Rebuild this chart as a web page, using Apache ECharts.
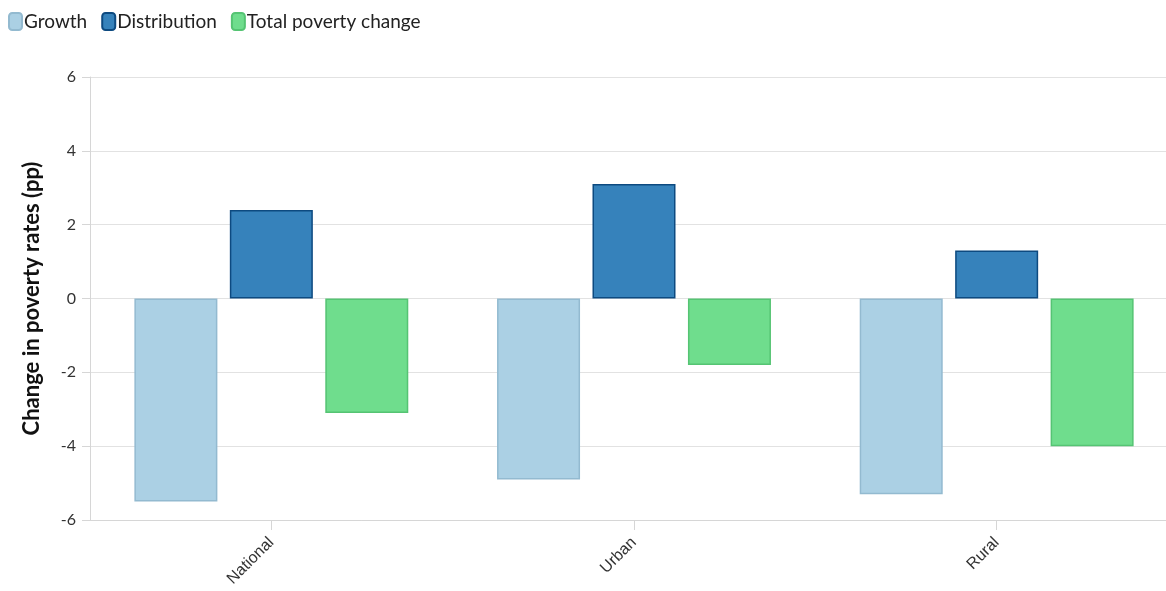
<!DOCTYPE html>
<html>
<head>
<meta charset="utf-8">
<script src="https://cdn.jsdelivr.net/npm/echarts@6/dist/echarts.min.js"></script>
<style>
  html, body { margin: 0; padding: 0; background: #fff; overflow: hidden; }
  /* the plot area runs a little past the right edge of the window */
  #chart { width: 1178px; height: 591px; }
</style>
</head>
<body>
<div id="chart"></div>
<script>
// Poverty change decomposition by area (percentage points)
const categories = ['National', 'Urban', 'Rural'];
const growth = [-5.5, -4.9, -5.3];
const distribution = [2.4, 3.1, 1.3];
const totalChange = [-3.1, -1.8, -4.0];
const yTicks = { min: -6, max: 6, interval: 2 };

const chart = echarts.init(document.getElementById('chart'));
const uiFont = 'Lato';

function barSeries(name, data, fill, border) {
  return {
    name: name,
    type: 'bar',
    data: data,
    barWidth: 83,
    barGap: '15%',
    itemStyle: { color: fill, borderColor: border, borderWidth: 1.5 }
  };
}

chart.setOption({
  animation: false,
  color: ['#abd0e4', '#3682bb', '#6fdd8d'],
  legend: {
    left: 3,
    top: 7,
    itemWidth: 13,
    itemHeight: 17,
    itemGap: 14,
    icon: 'roundRect',
    textStyle: { fontFamily: uiFont, fontSize: 19, color: '#222', padding: [0, 0, 0, -3] },
    data: ['Growth', 'Distribution', 'Total poverty change']
  },
  grid: { left: 90, right: 0, top: 77, height: 443, containLabel: false },
  xAxis: {
    type: 'category',
    data: categories,
    axisLine: { onZero: false, lineStyle: { color: '#d6d6d6' } },
    axisTick: { show: true, alignWithLabel: true, length: 10, lineStyle: { color: '#d6d6d6' } },
    axisLabel: {
      rotate: 45,
      margin: 20,
      fontFamily: 'Liberation Sans',
      fontSize: 16,
      color: '#333'
    }
  },
  yAxis: {
    type: 'value',
    min: yTicks.min,
    max: yTicks.max,
    interval: yTicks.interval,
    name: 'Change in poverty rates (pp)',
    nameLocation: 'middle',
    nameGap: 47,
    nameTextStyle: { fontFamily: uiFont, fontSize: 22, fontWeight: 'bold', color: '#111' },
    axisLine: { show: true, lineStyle: { color: '#d6d6d6' } },
    axisTick: { show: true, length: 8, lineStyle: { color: '#d6d6d6' } },
    axisLabel: { fontFamily: uiFont, fontSize: 16, color: '#333', margin: 14 },
    splitLine: { lineStyle: { color: '#e2e2e2' } }
  },
  series: [
    barSeries('Growth', growth, '#abd0e4', '#93bad0'),
    barSeries('Distribution', distribution, '#3682bb', '#0d4a80'),
    barSeries('Total poverty change', totalChange, '#6fdd8d', '#55c473')
  ]
});
</script>
</body>
</html>
